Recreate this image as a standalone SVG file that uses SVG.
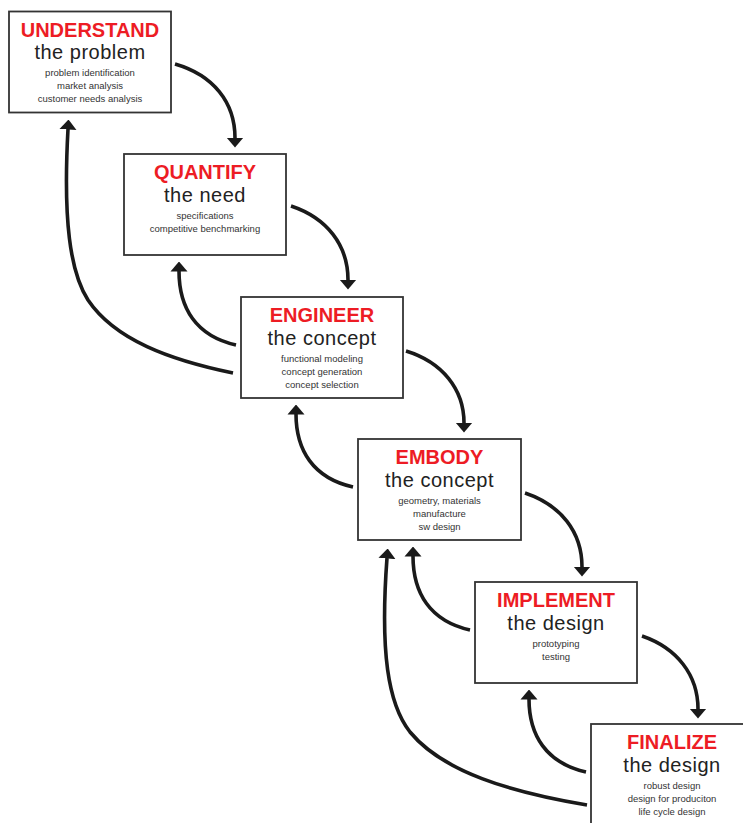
<svg xmlns="http://www.w3.org/2000/svg" width="743" height="823" viewBox="0 0 743 823">
<defs>
<style>
.box{fill:#fff;stroke:#333;stroke-width:1.8}
.t{font-family:"Liberation Sans",Arial,sans-serif;font-weight:bold;font-size:20px;fill:#ed1c24;text-anchor:middle}
.s{font-family:"Liberation Sans",Arial,sans-serif;font-size:20px;fill:#222;text-anchor:middle;letter-spacing:0.5px}
.d{font-family:"Liberation Sans",Arial,sans-serif;font-size:9.5px;fill:#333;text-anchor:middle}
.c{fill:none;stroke:#1a1a1a;stroke-width:3.6;marker-end:url(#ah)}
</style>
<marker id="ah" markerUnits="userSpaceOnUse" viewBox="0 -9 10 18" markerWidth="10" markerHeight="18" refX="0.5" refY="0" orient="auto">
<path d="M0,-8.5 L10,0 L0,8.5 z" fill="#1a1a1a"/>
</marker>
</defs>
<rect width="743" height="823" fill="#fff"/>
<g id="understand">
<rect class="box" x="9" y="11.5" width="162" height="101"/>
<text class="t" x="90" y="37">UNDERSTAND</text>
<text class="s" x="90" y="59">the problem</text>
<text class="d" x="90" y="76">problem identification</text>
<text class="d" x="90" y="89">market analysis</text>
<text class="d" x="90" y="102">customer needs analysis</text>
</g>
<g id="quantify">
<rect class="box" x="124" y="154" width="162" height="101"/>
<text class="t" x="205" y="179">QUANTIFY</text>
<text class="s" x="205" y="202">the need</text>
<text class="d" x="205" y="219">specifications</text>
<text class="d" x="205" y="232">competitive benchmarking</text>
</g>
<g id="engineer">
<rect class="box" x="241" y="297" width="162" height="101"/>
<text class="t" x="322" y="322">ENGINEER</text>
<text class="s" x="322" y="345">the concept</text>
<text class="d" x="322" y="362">functional modeling</text>
<text class="d" x="322" y="375">concept generation</text>
<text class="d" x="322" y="388">concept selection</text>
</g>
<g id="embody">
<rect class="box" x="358" y="439" width="163" height="101"/>
<text class="t" x="439.5" y="464">EMBODY</text>
<text class="s" x="439.5" y="487">the concept</text>
<text class="d" x="439.5" y="504">geometry, materials</text>
<text class="d" x="439.5" y="517">manufacture</text>
<text class="d" x="439.5" y="530">sw design</text>
</g>
<g id="implement">
<rect class="box" x="475" y="582" width="162" height="101"/>
<text class="t" x="556" y="607">IMPLEMENT</text>
<text class="s" x="556" y="630">the design</text>
<text class="d" x="556" y="647">prototyping</text>
<text class="d" x="556" y="660">testing</text>
</g>
<g id="finalize">
<rect class="box" x="591" y="724" width="162" height="101"/>
<text class="t" x="672" y="749">FINALIZE</text>
<text class="s" x="672" y="772">the design</text>
<text class="d" x="672" y="789">robust design</text>
<text class="d" x="672" y="802">design for produciton</text>
<text class="d" x="672" y="815">life cycle design</text>
</g>
<g id="connectors">
<path class="c" d="M175,64 C213,75 235,102 235,138"/>
<path class="c" d="M291,206 C327,218 348,245 348,280"/>
<path class="c" d="M406,351 C442,362 464,389 464,423"/>
<path class="c" d="M525,493 C561,505 582,532 582,567"/>
<path class="c" d="M642,636 C677,648 698,675 698,709"/>
<path class="c" d="M236,345 C196,336 179,308 179,271"/>
<path class="c" d="M353,487 C313,478 296,450 296,414"/>
<path class="c" d="M470,630 C430,621 413,593 413,556"/>
<path class="c" d="M586,772 C546,763 529,735 529,699"/>
<path class="c" d="M233,373 C170,360 115,340 88,300 C70,272 63,220 68,129"/>
<path class="c" d="M587,805 C510,792 443,772 410,732 C388,704 380,652 387,558"/>
</g>
</svg>
